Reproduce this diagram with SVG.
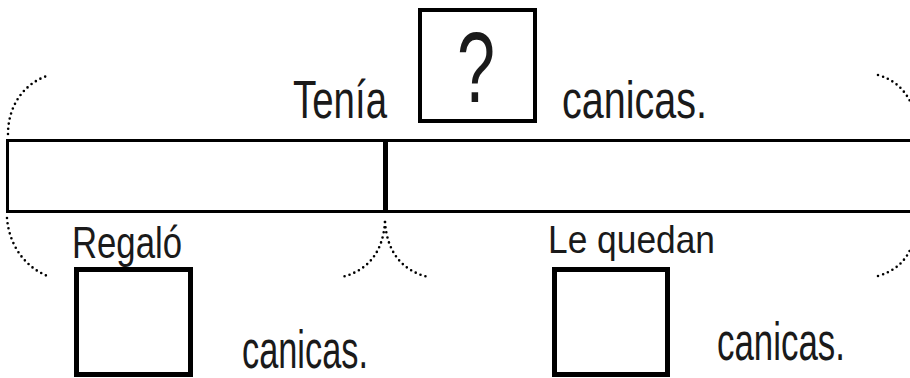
<svg xmlns="http://www.w3.org/2000/svg" width="910" height="378" viewBox="0 0 910 378">
<style>
.t{font-family:"Liberation Sans",Arial,sans-serif;fill:#1a1a1a}
.box{fill:none;stroke:#000}
.dot{fill:none;stroke:#000;stroke-width:2.6;stroke-linecap:round;stroke-dasharray:0 5.2}
.bar{fill:none;stroke:#000;stroke-width:3}
</style>
<rect width="910" height="378" fill="#fff"/>
<g id="top">
<text class="t" x="293" y="118" font-size="53" textLength="94" lengthAdjust="spacingAndGlyphs">Tenía</text>
<rect class="box" x="420" y="10" width="115" height="111" stroke-width="4"/>
<text class="t" x="457" y="102" font-size="100" textLength="38" lengthAdjust="spacingAndGlyphs">?</text>
<text class="t" x="562" y="118" font-size="51" textLength="145" lengthAdjust="spacingAndGlyphs">canicas.</text>
</g>
<g id="bar">
<path class="bar" d="M7.5,213 V140.5 H912 M7.5,211.5 H912"/>
<rect x="383" y="139" width="5" height="74" fill="#000"/>
</g>
<g id="braces">
<path class="dot" d="M8,134 C8,105 25,82 50,75"/>
<path class="dot" d="M878,75 C895,80 905,90 912,105"/>
<path class="dot" d="M7,218 C9,245 25,268 50,277"/>
<path class="dot" d="M385,222 C383,250 370,270 342,277"/>
<path class="dot" d="M385,222 C387,250 400,270 428,277"/>
<path class="dot" d="M878,276 C895,271 905,262 912,246"/>
</g>
<g id="regalo">
<text class="t" x="72" y="258" font-size="45" textLength="110" lengthAdjust="spacingAndGlyphs">Regaló</text>
<rect class="box" x="76.5" y="269.5" width="114" height="105" stroke-width="5"/>
<text class="t" x="242" y="368" font-size="54" textLength="126" lengthAdjust="spacingAndGlyphs">canicas.</text>
</g>
<g id="quedan">
<text class="t" x="548" y="253" font-size="39" textLength="167" lengthAdjust="spacingAndGlyphs">Le quedan</text>
<rect class="box" x="554.5" y="269.5" width="113" height="105" stroke-width="5"/>
<text class="t" font-size="54" transform="translate(717,360) scale(0.646,1)">canicas.</text>
</g>
</svg>
